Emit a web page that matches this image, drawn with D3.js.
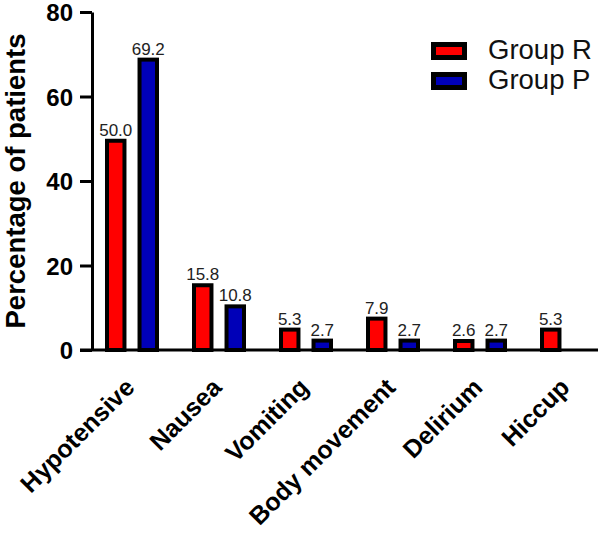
<!DOCTYPE html>
<html>
<head>
<meta charset="utf-8">
<script src="https://cdn.jsdelivr.net/npm/d3@7"></script>
<style>
	html, body { margin: 0; padding: 0; background: #fff; }
	svg { display: block; font-family: "Liberation Sans", Arial, sans-serif; }
</style>
</head>
<body>
<svg id="chart" width="608" height="533"></svg>
<script>
const categories = ['Hypotensive', 'Nausea', 'Vomiting', 'Body movement', 'Delirium', 'Hiccup'];
const groups = ['Group R', 'Group P'];
const groupR = [50.0, 15.8, 5.3, 7.9, 2.6, 5.3];
const groupP = [69.2, 10.8, 2.7, 2.7, 2.7, null];
const yTicks = [0, 20, 40, 60, 80];
const colors = ['#ff0000', '#0000b8'];

const svg = d3.select('#chart');

const y = d3.scaleLinear().domain([0, 80]).range([350, 12]);
const x = d3.scaleBand().domain(categories).range([88.5, 610.5]);
const sub = d3.scaleBand().domain(groups).range([-27, 27]).paddingInner(0.34);
const color = d3.scaleOrdinal().domain(groups).range(colors);

const axisX = 92;
const tickLen = 12;

// bars
const rows = [];
categories.forEach((c, i) => {
	[groupR[i], groupP[i]].forEach((v, j) => {
		if (v == null) return;
		rows.push({cat: c, group: groups[j], value: v});
	});
});

const barX = d => x(d.cat) + x.bandwidth() / 2 + sub(d.group);

svg.append('g')
	.selectAll('rect')
	.data(rows)
	.join('rect')
	.attr('x', d => barX(d) + 2)
	.attr('width', sub.bandwidth() - 4)
	.attr('y', d => y(d.value) + 2)
	.attr('height', d => y(0) - y(d.value) - 2)
	.attr('fill', d => color(d.group))
	.attr('stroke', '#000')
	.attr('stroke-width', 4);

svg.append('g')
	.selectAll('text')
	.data(rows)
	.join('text')
	.attr('x', d => barX(d) + sub.bandwidth() / 2)
	.attr('y', d => y(d.value) - 3)
	.attr('text-anchor', 'middle')
	.attr('font-size', 17)
	.attr('fill', '#222')
	.text(d => d.value.toFixed(1));

// y axis
const yAxis = svg.append('g')
	.attr('transform', `translate(${axisX},0)`)
	.call(d3.axisLeft(y).tickValues(yTicks).tickSize(tickLen).tickSizeOuter(0).tickPadding(7));
yAxis.select('.domain').attr('stroke', '#000').attr('stroke-width', 3);
yAxis.selectAll('.tick line').attr('stroke', '#000').attr('stroke-width', 3);
yAxis.selectAll('.tick text')
	.attr('dy', '0.37em')
	.attr('font-size', 24)
	.attr('font-weight', 'bold')
	.attr('font-family', '"Liberation Sans", Arial, sans-serif')
	.attr('fill', '#000');

// x axis line
svg.append('line')
	.attr('x1', axisX - tickLen)
	.attr('x2', 598)
	.attr('y1', y(0))
	.attr('y2', y(0))
	.attr('stroke', '#000')
	.attr('stroke-width', 3);

// category labels
svg.append('g')
	.selectAll('text')
	.data(categories)
	.join('text')
	.attr('transform', d => `translate(${x(d) + x.bandwidth() / 2 + 4},389) rotate(-45)`)
	.attr('text-anchor', 'end')
	.attr('font-size', 25)
	.attr('font-weight', 'bold')
	.attr('fill', '#000')
	.text(d => d);

// y title
svg.append('text')
	.attr('transform', 'translate(25,181) rotate(-90)')
	.attr('text-anchor', 'middle')
	.attr('font-size', 27.5)
	.attr('font-weight', 'bold')
	.attr('fill', '#000')
	.text('Percentage of patients');

// legend
const legend = svg.append('g')
	.selectAll('g')
	.data(groups)
	.join('g')
	.attr('transform', (d, i) => `translate(431,${42 + i * 30})`);
legend.append('rect')
	.attr('x', 2.5).attr('y', 2.5)
	.attr('width', 31).attr('height', 13)
	.attr('fill', d => color(d))
	.attr('stroke', '#000')
	.attr('stroke-width', 5);
legend.append('text')
	.attr('x', 57)
	.attr('y', 17)
	.attr('font-size', 27.5)
	.attr('fill', '#111')
	.text(d => d);
</script>
</body>
</html>
